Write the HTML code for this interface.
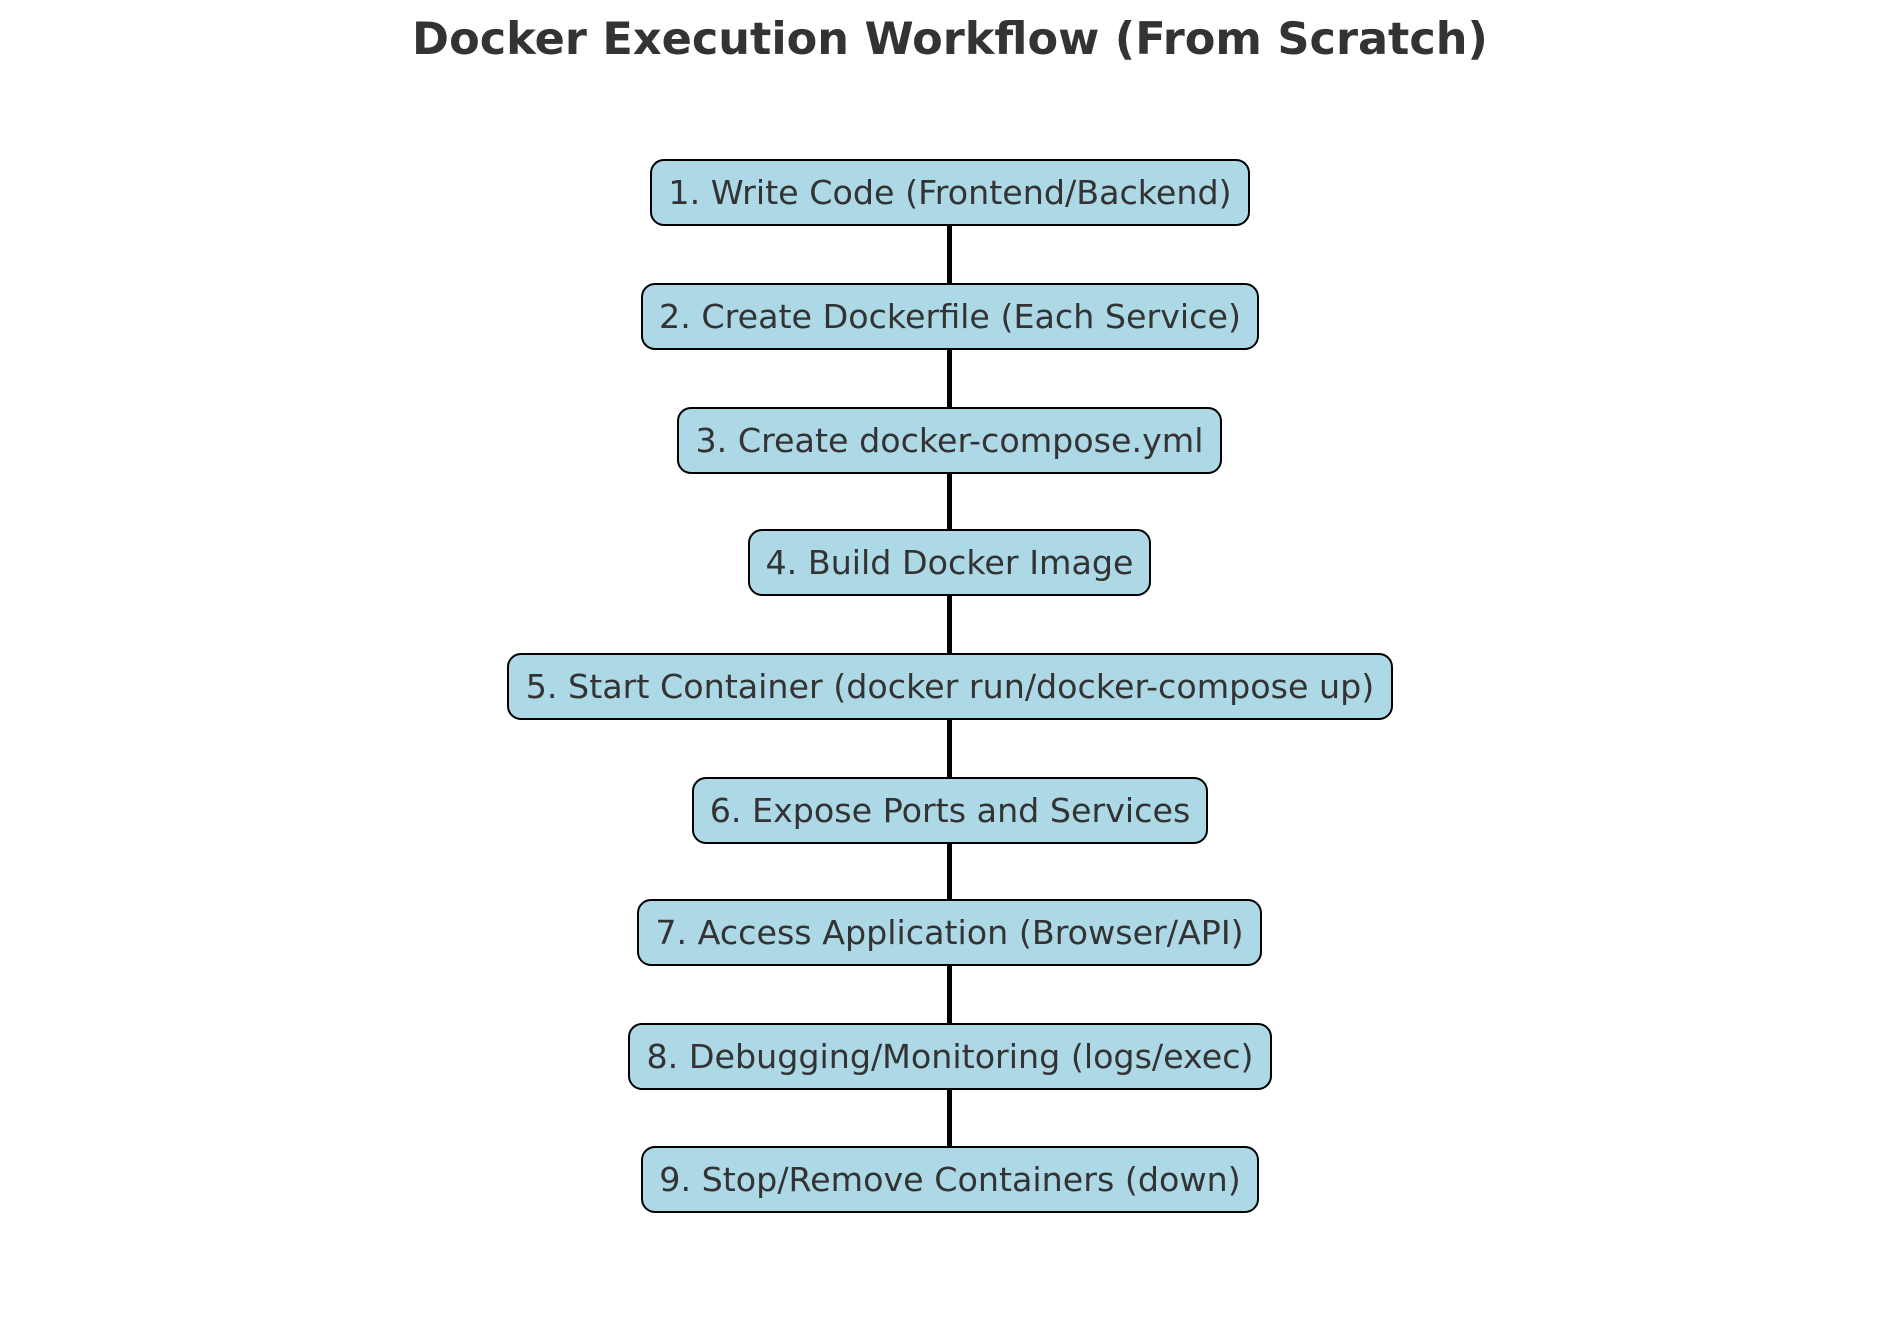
<!DOCTYPE html>
<html><head><style>
body{margin:0;width:1900px;height:1322px;background:#fff;position:relative;overflow:hidden;font-family:"DejaVu Sans","Liberation Sans",sans-serif;}
.t{position:absolute;left:0;width:1900px;top:13px;text-align:center;font-weight:bold;font-size:44.6px;color:#333;}
.b{position:absolute;height:62px;box-sizing:border-box;border:2.5px solid #000;border-radius:14px;background:#add8e6;color:#333;font-size:33.3px;display:flex;align-items:center;justify-content:center;white-space:nowrap;}
.l{position:absolute;left:947px;width:5px;background:#000;top:226px;height:921px;}
</style></head><body>
<div class="t">Docker Execution Workflow (From Scratch)</div>
<div class="l"></div>
<div class="b" style="left:650px;width:600px;top:159px;height:67px">1. Write Code (Frontend/Backend)</div>
<div class="b" style="left:641px;width:618px;top:283px;height:67px">2. Create Dockerfile (Each Service)</div>
<div class="b" style="left:677px;width:545px;top:407px;height:67px">3. Create docker-compose.yml</div>
<div class="b" style="left:748px;width:403px;top:529px;height:67px">4. Build Docker Image</div>
<div class="b" style="left:507px;width:886px;top:653px;height:67px">5. Start Container (docker run/docker-compose up)</div>
<div class="b" style="left:692px;width:516px;top:777px;height:67px">6. Expose Ports and Services</div>
<div class="b" style="left:637px;width:625px;top:899px;height:67px">7. Access Application (Browser/API)</div>
<div class="b" style="left:628px;width:644px;top:1023px;height:67px">8. Debugging/Monitoring (logs/exec)</div>
<div class="b" style="left:641px;width:618px;top:1146px;height:67px">9. Stop/Remove Containers (down)</div>
</body></html>
